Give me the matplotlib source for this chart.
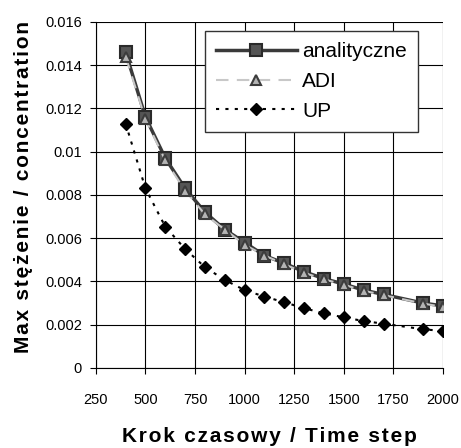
import matplotlib
matplotlib.use("Agg")
import matplotlib.pyplot as plt
from matplotlib.ticker import FixedLocator, FixedFormatter

plt.rcParams['font.family'] = ['Liberation Sans', 'DejaVu Sans']

steps = [400, 500, 600, 700, 800, 900, 1000, 1100, 1200, 1300, 1400, 1500, 1600, 1700, 1900, 2000]
analityczne = [0.0146, 0.0116, 0.0097, 0.0083, 0.0072, 0.0064, 0.0058, 0.0052, 0.00484, 0.00445,
               0.00413, 0.00388, 0.0036, 0.0034, 0.0030, 0.00287]
adi = [0.0144, 0.0115, 0.0096, 0.0082, 0.0071, 0.0064, 0.0057, 0.0052, 0.0048, 0.0044,
       0.0041, 0.00385, 0.00357, 0.00337, 0.00298, 0.00282]
up = [0.0113, 0.0083, 0.00653, 0.0055, 0.00466, 0.00407, 0.0036, 0.0033, 0.00304, 0.00276,
      0.00253, 0.00234, 0.00217, 0.00205, 0.00179, 0.00171]

xticks = [250, 500, 750, 1000, 1250, 1500, 1750, 2000]
yticks = [0, 0.002, 0.004, 0.006, 0.008, 0.01, 0.012, 0.014, 0.016]
ytick_labels = ['0', '0.002', '0.004', '0.006', '0.008', '0.01', '0.012', '0.014', '0.016']

series_labels = ['analityczne', 'ADI', 'UP']
xlabel = 'Krok czasowy / Time step'
ylabel = 'Max stężenie / concentration'


def spaced(s, sep='\u200a'):
    return sep.join(s)


fig = plt.figure(figsize=(4.61, 4.48), dpi=100)
ax = fig.add_axes([0.208, 0.1786, 0.753, 0.7724])

ax.plot(steps, analityczne, color='#3a3a3a', lw=2.5, marker='s', ms=8,
        mfc='#555555', mec='#2a2a2a', mew=1.5, label=series_labels[0], zorder=3)
ax.plot(steps, adi, color='#c8c8c8', lw=1.5, ls=(0, (6, 4)), marker='^', ms=7,
        mfc='#b4b4b4', mec='#3c3c3c', mew=1.5, label=series_labels[1], zorder=4)
ax.plot(steps, up, color='black', lw=1.5, ls=(0, (1.5, 3)), marker='D', ms=6,
        mfc='black', mec='black', label=series_labels[2], zorder=3)

ax.set_xlim(250, 2000)
ax.set_ylim(0, 0.016)
ax.xaxis.set_major_locator(FixedLocator(xticks))
ax.yaxis.set_major_locator(FixedLocator(yticks))
ax.yaxis.set_major_formatter(FixedFormatter(ytick_labels))
ax.grid(True, color='black', lw=0.8)
for s in ['top', 'right']:
    ax.spines[s].set_visible(False)
for s in ['left', 'bottom']:
    ax.spines[s].set_linewidth(0.8)
ax.tick_params(axis='both', direction='out', length=4, width=0.8, labelsize=10.5, colors='black')
ax.tick_params(axis='x', pad=14)
ax.tick_params(axis='y', pad=6)

ax.set_xlabel(spaced(xlabel), fontsize=15, fontweight='bold')
ax.xaxis.set_label_coords(0.5, -0.17)
ax.set_ylabel(spaced(ylabel), fontsize=15, fontweight='bold')
ax.yaxis.set_label_coords(-0.18, 0.522)

leg = ax.legend(loc='upper right', bbox_to_anchor=(0.928, 0.974), borderaxespad=0, fontsize=15,
                frameon=True, fancybox=False, edgecolor='#333333', framealpha=1,
                handlelength=3.9, handletextpad=0.25, borderpad=0.53, labelspacing=0.52)
leg.get_frame().set_linewidth(1.0)

fig.savefig('out.png', dpi=100)
